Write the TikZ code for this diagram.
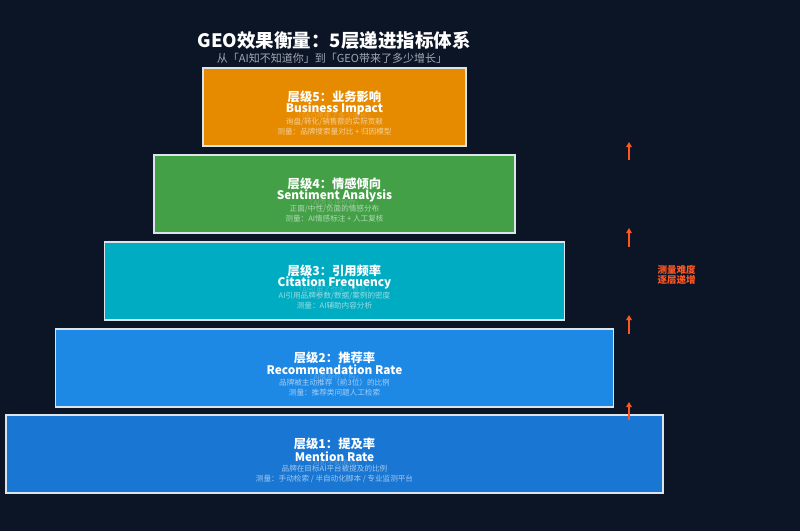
\documentclass[tikz,border=0pt]{standalone}
\usepackage{fontspec}
\setmainfont{Noto Sans CJK SC}
\usetikzlibrary{arrows.meta}
\definecolor{bg}{RGB}{12,21,38}
\definecolor{cfive}{HTML}{E68A00}
\definecolor{cfour}{HTML}{43A047}
\definecolor{cthree}{HTML}{00ACC1}
\definecolor{ctwo}{HTML}{1E88E5}
\definecolor{cone}{HTML}{1976D2}
\definecolor{edgec}{HTML}{DDE3EA}
\definecolor{accent}{HTML}{FF5722}
\definecolor{subgray}{HTML}{A0A8B4}
\tikzset{
  layer/.style={draw=edgec, line width=1.8pt, inner sep=0pt, anchor=north},
  ltitle/.style={text=white, font=\fontsize{12.3}{14}\selectfont\bfseries},
  lname/.style={text=white, font=\fontsize{11.8}{14}\selectfont\bfseries},
  lq/.style={text=white, opacity=0.25, inner sep=1pt, font=\fontsize{7.2}{9}\selectfont},
  ldesc/.style={text=white, opacity=0.6, font=\fontsize{7.6}{9}\selectfont},
  uparrow/.style={draw=accent, line width=1.4pt, -{Triangle[length=5pt,width=5.5pt]}},
}
\begin{document}
\begin{tikzpicture}[x=1pt,y=-1pt]
\fill[bg] (0,0) rectangle (800,531);
\useasboundingbox (0,0) rectangle (800,531);
\node[text=white, font=\fontsize{18.5}{22}\selectfont\bfseries] (title) at (334,40) {GEO效果衡量：5层递进指标体系};
\node[text=subgray, font=\fontsize{11}{13}\selectfont] (sub) at (332,58) {从「AI知不知道你」到「GEO带来了多少增长」};
% boxes
\node[layer, fill=cfive, minimum width=263pt, minimum height=78pt] (b5) at (334.5,67) {};
\node[layer, fill=cfour, minimum width=361pt, minimum height=78pt] (b4) at (334.5,154) {};
\node[layer, fill=cthree, minimum width=460pt, minimum height=78pt] (b3) at (334.5,241) {};
\node[layer, fill=ctwo, minimum width=558pt, minimum height=78pt] (b2) at (334.5,328) {};
\node[layer, fill=cone, minimum width=657pt, minimum height=78pt] (b1) at (334.5,414) {};
% texts box 5
\node[ltitle] (t5) at (334.5,97) {层级5：业务影响};
\node[lname] (n5) at (334.5,109) {Business Impact};
\node[lq] (q5) at (334.5,116) {「GEO带来了多少增长」};
\node[ldesc] (d5) at (334.5,122) {询盘/转化/销售额的实际贡献};
\node[ldesc] (m5) at (334.5,132) {测量：品牌搜索量对比 + 归因模型};
% box 4
\node[ltitle] (t4) at (334.5,184) {层级4：情感倾向};
\node[lname] (n4) at (334.5,196) {Sentiment Analysis};
\node[lq] (q4) at (334.5,203) {「AI怎么评价你」};
\node[ldesc] (d4) at (334.5,209) {正面/中性/负面的情感分布};
\node[ldesc] (m4) at (334.5,219) {测量：AI情感标注 + 人工复核};
% box 3
\node[ltitle] (t3) at (334.5,271) {层级3：引用频率};
\node[lname] (n3) at (334.5,283) {Citation Frequency};
\node[lq] (q3) at (334.5,290) {「AI引用了你多少信息」};
\node[ldesc] (d3) at (334.5,296) {AI引用品牌参数/数据/案例的密度};
\node[ldesc] (m3) at (334.5,306) {测量：AI辅助内容分析};
% box 2
\node[ltitle] (t2) at (334.5,358) {层级2：推荐率};
\node[lname] (n2) at (334.5,370) {Recommendation Rate};
\node[lq] (q2) at (334.5,377) {「AI推荐你了吗」};
\node[ldesc] (d2) at (334.5,383) {品牌被主动推荐（前3位）的比例};
\node[ldesc] (m2) at (334.5,393) {测量：推荐类问题人工检索};
% box 1
\node[ltitle] (t1) at (334.5,444) {层级1：提及率};
\node[lname] (n1) at (334.5,457) {Mention Rate};
\node[lq] (q1) at (334.5,463) {「AI知不知道你」};
\node[ldesc] (d1) at (334.5,469) {品牌在目标AI平台被提及的比例};
\node[ldesc] (m1) at (334.5,479) {测量：手动检索 / 半自动化脚本 / 专业监测平台};
% arrows
\coordinate (a4s) at (629,160); \coordinate (a4e) at (629,142);
\coordinate (a3s) at (629,247); \coordinate (a3e) at (629,228);
\coordinate (a2s) at (629,334); \coordinate (a2e) at (629,315);
\coordinate (a1s) at (629,420); \coordinate (a1e) at (629,402);
\draw[uparrow] (a4s) -- (a4e);
\draw[uparrow] (a3s) -- (a3e);
\draw[uparrow] (a2s) -- (a2e);
\draw[uparrow] (a1s) -- (a1e);
\node[text=accent, font=\fontsize{9.5}{10.5}\selectfont\bfseries, align=left, anchor=west] (diff) at (654,275) {测量难度\\逐层递增};
\end{tikzpicture}
\end{document}
